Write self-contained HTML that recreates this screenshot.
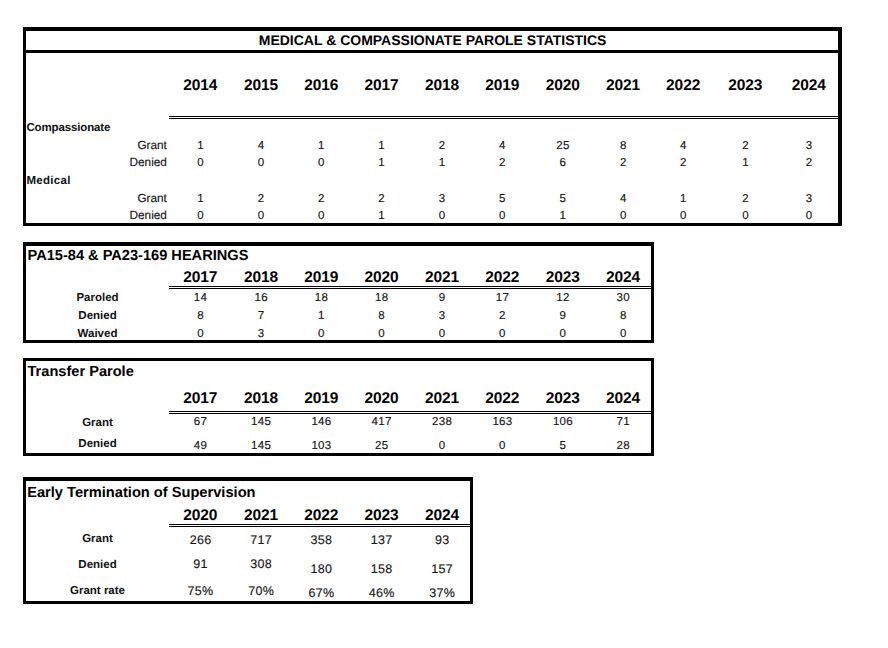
<!DOCTYPE html>
<html><head><meta charset="utf-8"><title>Medical &amp; Compassionate Parole Statistics</title>
<style>
html,body{margin:0;padding:0;background:#fff}
body{width:888px;height:648px;position:relative;overflow:hidden;font-family:"Liberation Sans",sans-serif}
.r{position:absolute;background:#000}
.t{position:absolute;white-space:nowrap;margin:0;padding:0;height:20px;line-height:20px;text-rendering:geometricPrecision}
.t1{font-size:14px;font-weight:700;color:#000;letter-spacing:0px}
.t2{font-size:14.6px;font-weight:700;color:#000;letter-spacing:0px}
.t3{font-size:14.6px;font-weight:700;color:#000;letter-spacing:0px}
.t4{font-size:14.65px;font-weight:700;color:#000;letter-spacing:0px}
.h{font-size:15.5px;font-weight:700;color:#000;letter-spacing:-0.1px}
.lb{font-size:11.5px;font-weight:700;color:#111;letter-spacing:0px}
.lr{font-size:11.8px;font-weight:400;color:#151515;letter-spacing:0px;-webkit-text-stroke:0.15px #151515}
.n{font-size:11.5px;font-weight:400;color:#151515;letter-spacing:0.3px;-webkit-text-stroke:0.15px #151515}
.n4{font-size:12.5px;font-weight:400;color:#151515;letter-spacing:0.3px;-webkit-text-stroke:0.15px #151515}
</style></head><body>
<div class="r" style="left:23px;top:27px;width:819px;height:4px"></div>
<div class="r" style="left:23px;top:223px;width:819px;height:3px"></div>
<div class="r" style="left:23px;top:27px;width:3px;height:199px"></div>
<div class="r" style="left:838px;top:27px;width:4px;height:199px"></div>
<div class="r" style="left:23px;top:50px;width:819px;height:3px"></div>
<div class="r" style="left:169px;top:116px;width:669px;height:1px"></div>
<div class="r" style="left:169px;top:118px;width:669px;height:1px"></div>
<div class="r" style="left:23px;top:242px;width:631px;height:4px"></div>
<div class="r" style="left:23px;top:340px;width:631px;height:3px"></div>
<div class="r" style="left:23px;top:242px;width:3px;height:101px"></div>
<div class="r" style="left:651px;top:242px;width:3px;height:101px"></div>
<div class="r" style="left:169px;top:286px;width:482px;height:1px"></div>
<div class="r" style="left:169px;top:288px;width:482px;height:1px"></div>
<div class="r" style="left:23px;top:358px;width:631px;height:3px"></div>
<div class="r" style="left:23px;top:453px;width:631px;height:3px"></div>
<div class="r" style="left:23px;top:358px;width:3px;height:98px"></div>
<div class="r" style="left:651px;top:358px;width:3px;height:98px"></div>
<div class="r" style="left:169px;top:411px;width:482px;height:1px"></div>
<div class="r" style="left:169px;top:413px;width:482px;height:1px"></div>
<div class="r" style="left:23px;top:477px;width:450px;height:4px"></div>
<div class="r" style="left:23px;top:601px;width:450px;height:3px"></div>
<div class="r" style="left:23px;top:477px;width:3px;height:127px"></div>
<div class="r" style="left:470px;top:477px;width:3px;height:127px"></div>
<div class="r" style="left:169px;top:524px;width:301px;height:1px"></div>
<div class="r" style="left:169px;top:526px;width:301px;height:1px"></div>
<div class="t t1" style="left:132.60px;top:30px;width:600px;text-align:center">MEDICAL &amp; COMPASSIONATE PAROLE STATISTICS</div>
<div class="t h" style="left:100.35px;top:76px;width:200px;text-align:center">2014</div>
<div class="t h" style="left:160.95px;top:76px;width:200px;text-align:center">2015</div>
<div class="t h" style="left:221.25px;top:76px;width:200px;text-align:center">2016</div>
<div class="t h" style="left:281.45px;top:76px;width:200px;text-align:center">2017</div>
<div class="t h" style="left:341.95px;top:76px;width:200px;text-align:center">2018</div>
<div class="t h" style="left:402.25px;top:76px;width:200px;text-align:center">2019</div>
<div class="t h" style="left:462.75px;top:76px;width:200px;text-align:center">2020</div>
<div class="t h" style="left:523.05px;top:76px;width:200px;text-align:center">2021</div>
<div class="t h" style="left:583.15px;top:76px;width:200px;text-align:center">2022</div>
<div class="t h" style="left:645.35px;top:76px;width:200px;text-align:center">2023</div>
<div class="t h" style="left:708.85px;top:76px;width:200px;text-align:center">2024</div>
<div class="t lb" style="left:26.40px;top:118px;letter-spacing:-0.13px">Compassionate</div>
<div class="t lb" style="left:26.40px;top:171px;letter-spacing:0.3px">Medical</div>
<div class="t lr" style="right:721.10px;top:135px">Grant</div>
<div class="t lr" style="right:721.10px;top:152px">Denied</div>
<div class="t lr" style="right:721.10px;top:188px">Grant</div>
<div class="t lr" style="right:721.10px;top:205px">Denied</div>
<div class="t n" style="left:100.55px;top:136px;width:200px;text-align:center">1</div>
<div class="t n" style="left:161.15px;top:136px;width:200px;text-align:center">4</div>
<div class="t n" style="left:221.45px;top:136px;width:200px;text-align:center">1</div>
<div class="t n" style="left:281.65px;top:136px;width:200px;text-align:center">1</div>
<div class="t n" style="left:342.15px;top:136px;width:200px;text-align:center">2</div>
<div class="t n" style="left:402.45px;top:136px;width:200px;text-align:center">4</div>
<div class="t n" style="left:462.95px;top:136px;width:200px;text-align:center">25</div>
<div class="t n" style="left:523.25px;top:136px;width:200px;text-align:center">8</div>
<div class="t n" style="left:583.35px;top:136px;width:200px;text-align:center">4</div>
<div class="t n" style="left:645.55px;top:136px;width:200px;text-align:center">2</div>
<div class="t n" style="left:709.05px;top:136px;width:200px;text-align:center">3</div>
<div class="t n" style="left:100.55px;top:153px;width:200px;text-align:center">0</div>
<div class="t n" style="left:161.15px;top:153px;width:200px;text-align:center">0</div>
<div class="t n" style="left:221.45px;top:153px;width:200px;text-align:center">0</div>
<div class="t n" style="left:281.65px;top:153px;width:200px;text-align:center">1</div>
<div class="t n" style="left:342.15px;top:153px;width:200px;text-align:center">1</div>
<div class="t n" style="left:402.45px;top:153px;width:200px;text-align:center">2</div>
<div class="t n" style="left:462.95px;top:153px;width:200px;text-align:center">6</div>
<div class="t n" style="left:523.25px;top:153px;width:200px;text-align:center">2</div>
<div class="t n" style="left:583.35px;top:153px;width:200px;text-align:center">2</div>
<div class="t n" style="left:645.55px;top:153px;width:200px;text-align:center">1</div>
<div class="t n" style="left:709.05px;top:153px;width:200px;text-align:center">2</div>
<div class="t n" style="left:100.55px;top:189px;width:200px;text-align:center">1</div>
<div class="t n" style="left:161.15px;top:189px;width:200px;text-align:center">2</div>
<div class="t n" style="left:221.45px;top:189px;width:200px;text-align:center">2</div>
<div class="t n" style="left:281.65px;top:189px;width:200px;text-align:center">2</div>
<div class="t n" style="left:342.15px;top:189px;width:200px;text-align:center">3</div>
<div class="t n" style="left:402.45px;top:189px;width:200px;text-align:center">5</div>
<div class="t n" style="left:462.95px;top:189px;width:200px;text-align:center">5</div>
<div class="t n" style="left:523.25px;top:189px;width:200px;text-align:center">4</div>
<div class="t n" style="left:583.35px;top:189px;width:200px;text-align:center">1</div>
<div class="t n" style="left:645.55px;top:189px;width:200px;text-align:center">2</div>
<div class="t n" style="left:709.05px;top:189px;width:200px;text-align:center">3</div>
<div class="t n" style="left:100.55px;top:206px;width:200px;text-align:center">0</div>
<div class="t n" style="left:161.15px;top:206px;width:200px;text-align:center">0</div>
<div class="t n" style="left:221.45px;top:206px;width:200px;text-align:center">0</div>
<div class="t n" style="left:281.65px;top:206px;width:200px;text-align:center">1</div>
<div class="t n" style="left:342.15px;top:206px;width:200px;text-align:center">0</div>
<div class="t n" style="left:402.45px;top:206px;width:200px;text-align:center">0</div>
<div class="t n" style="left:462.95px;top:206px;width:200px;text-align:center">1</div>
<div class="t n" style="left:523.25px;top:206px;width:200px;text-align:center">0</div>
<div class="t n" style="left:583.35px;top:206px;width:200px;text-align:center">0</div>
<div class="t n" style="left:645.55px;top:206px;width:200px;text-align:center">0</div>
<div class="t n" style="left:709.05px;top:206px;width:200px;text-align:center">0</div>
<div class="t t2" style="left:27.50px;top:246px">PA15-84 &amp; PA23-169 HEARINGS</div>
<div class="t h" style="left:100.35px;top:268px;width:200px;text-align:center">2017</div>
<div class="t h" style="left:160.95px;top:268px;width:200px;text-align:center">2018</div>
<div class="t h" style="left:221.25px;top:268px;width:200px;text-align:center">2019</div>
<div class="t h" style="left:281.45px;top:268px;width:200px;text-align:center">2020</div>
<div class="t h" style="left:341.95px;top:268px;width:200px;text-align:center">2021</div>
<div class="t h" style="left:402.25px;top:268px;width:200px;text-align:center">2022</div>
<div class="t h" style="left:462.75px;top:268px;width:200px;text-align:center">2023</div>
<div class="t h" style="left:523.05px;top:268px;width:200px;text-align:center">2024</div>
<div class="t lb" style="left:-2.50px;top:288px;width:200px;text-align:center">Paroled</div>
<div class="t n" style="left:100.55px;top:288px;width:200px;text-align:center">14</div>
<div class="t n" style="left:161.15px;top:288px;width:200px;text-align:center">16</div>
<div class="t n" style="left:221.45px;top:288px;width:200px;text-align:center">18</div>
<div class="t n" style="left:281.65px;top:288px;width:200px;text-align:center">18</div>
<div class="t n" style="left:342.15px;top:288px;width:200px;text-align:center">9</div>
<div class="t n" style="left:402.45px;top:288px;width:200px;text-align:center">17</div>
<div class="t n" style="left:462.95px;top:288px;width:200px;text-align:center">12</div>
<div class="t n" style="left:523.25px;top:288px;width:200px;text-align:center">30</div>
<div class="t lb" style="left:-2.50px;top:306px;width:200px;text-align:center">Denied</div>
<div class="t n" style="left:100.55px;top:306px;width:200px;text-align:center">8</div>
<div class="t n" style="left:161.15px;top:306px;width:200px;text-align:center">7</div>
<div class="t n" style="left:221.45px;top:306px;width:200px;text-align:center">1</div>
<div class="t n" style="left:281.65px;top:306px;width:200px;text-align:center">8</div>
<div class="t n" style="left:342.15px;top:306px;width:200px;text-align:center">3</div>
<div class="t n" style="left:402.45px;top:306px;width:200px;text-align:center">2</div>
<div class="t n" style="left:462.95px;top:306px;width:200px;text-align:center">9</div>
<div class="t n" style="left:523.25px;top:306px;width:200px;text-align:center">8</div>
<div class="t lb" style="left:-2.50px;top:324px;width:200px;text-align:center">Waived</div>
<div class="t n" style="left:100.55px;top:324px;width:200px;text-align:center">0</div>
<div class="t n" style="left:161.15px;top:324px;width:200px;text-align:center">3</div>
<div class="t n" style="left:221.45px;top:324px;width:200px;text-align:center">0</div>
<div class="t n" style="left:281.65px;top:324px;width:200px;text-align:center">0</div>
<div class="t n" style="left:342.15px;top:324px;width:200px;text-align:center">0</div>
<div class="t n" style="left:402.45px;top:324px;width:200px;text-align:center">0</div>
<div class="t n" style="left:462.95px;top:324px;width:200px;text-align:center">0</div>
<div class="t n" style="left:523.25px;top:324px;width:200px;text-align:center">0</div>
<div class="t t3" style="left:27.50px;top:362px">Transfer Parole</div>
<div class="t h" style="left:100.35px;top:389px;width:200px;text-align:center">2017</div>
<div class="t h" style="left:160.95px;top:389px;width:200px;text-align:center">2018</div>
<div class="t h" style="left:221.25px;top:389px;width:200px;text-align:center">2019</div>
<div class="t h" style="left:281.45px;top:389px;width:200px;text-align:center">2020</div>
<div class="t h" style="left:341.95px;top:389px;width:200px;text-align:center">2021</div>
<div class="t h" style="left:402.25px;top:389px;width:200px;text-align:center">2022</div>
<div class="t h" style="left:462.75px;top:389px;width:200px;text-align:center">2023</div>
<div class="t h" style="left:523.05px;top:389px;width:200px;text-align:center">2024</div>
<div class="t lb" style="left:-2.50px;top:413px;width:200px;text-align:center">Grant</div>
<div class="t n" style="left:100.55px;top:412px;width:200px;text-align:center">67</div>
<div class="t n" style="left:161.15px;top:412px;width:200px;text-align:center">145</div>
<div class="t n" style="left:221.45px;top:412px;width:200px;text-align:center">146</div>
<div class="t n" style="left:281.65px;top:412px;width:200px;text-align:center">417</div>
<div class="t n" style="left:342.15px;top:412px;width:200px;text-align:center">238</div>
<div class="t n" style="left:402.45px;top:412px;width:200px;text-align:center">163</div>
<div class="t n" style="left:462.95px;top:412px;width:200px;text-align:center">106</div>
<div class="t n" style="left:523.25px;top:412px;width:200px;text-align:center">71</div>
<div class="t lb" style="left:-2.50px;top:434px;width:200px;text-align:center">Denied</div>
<div class="t n" style="left:100.55px;top:436px;width:200px;text-align:center">49</div>
<div class="t n" style="left:161.15px;top:436px;width:200px;text-align:center">145</div>
<div class="t n" style="left:221.45px;top:436px;width:200px;text-align:center">103</div>
<div class="t n" style="left:281.65px;top:436px;width:200px;text-align:center">25</div>
<div class="t n" style="left:342.15px;top:436px;width:200px;text-align:center">0</div>
<div class="t n" style="left:402.45px;top:436px;width:200px;text-align:center">0</div>
<div class="t n" style="left:462.95px;top:436px;width:200px;text-align:center">5</div>
<div class="t n" style="left:523.25px;top:436px;width:200px;text-align:center">28</div>
<div class="t t4" style="left:27.20px;top:483px">Early Termination of Supervision</div>
<div class="t h" style="left:100.35px;top:506px;width:200px;text-align:center">2020</div>
<div class="t h" style="left:160.95px;top:506px;width:200px;text-align:center">2021</div>
<div class="t h" style="left:221.25px;top:506px;width:200px;text-align:center">2022</div>
<div class="t h" style="left:281.45px;top:506px;width:200px;text-align:center">2023</div>
<div class="t h" style="left:341.95px;top:506px;width:200px;text-align:center">2024</div>
<div class="t lb" style="left:-2.50px;top:529px;width:200px;text-align:center">Grant</div>
<div class="t lb" style="left:-2.50px;top:555px;width:200px;text-align:center">Denied</div>
<div class="t lb" style="left:-2.50px;top:581px;width:200px;text-align:center">Grant rate</div>
<div class="t n4" style="left:100.55px;top:530px;width:200px;text-align:center">266</div>
<div class="t n4" style="left:161.15px;top:530px;width:200px;text-align:center">717</div>
<div class="t n4" style="left:221.45px;top:530px;width:200px;text-align:center">358</div>
<div class="t n4" style="left:281.65px;top:530px;width:200px;text-align:center">137</div>
<div class="t n4" style="left:342.15px;top:530px;width:200px;text-align:center">93</div>
<div class="t n4" style="left:100.55px;top:554px;width:200px;text-align:center">91</div>
<div class="t n4" style="left:161.15px;top:554px;width:200px;text-align:center">308</div>
<div class="t n4" style="left:221.45px;top:559px;width:200px;text-align:center">180</div>
<div class="t n4" style="left:281.65px;top:559px;width:200px;text-align:center">158</div>
<div class="t n4" style="left:342.15px;top:559px;width:200px;text-align:center">157</div>
<div class="t n4" style="left:100.55px;top:581px;width:200px;text-align:center">75%</div>
<div class="t n4" style="left:161.15px;top:581px;width:200px;text-align:center">70%</div>
<div class="t n4" style="left:221.45px;top:583px;width:200px;text-align:center">67%</div>
<div class="t n4" style="left:281.65px;top:583px;width:200px;text-align:center">46%</div>
<div class="t n4" style="left:342.15px;top:583px;width:200px;text-align:center">37%</div>
</body></html>
